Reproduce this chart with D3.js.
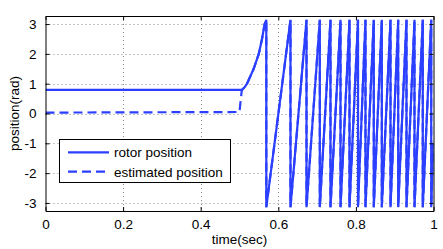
<!DOCTYPE html>
<html>
<head>
<meta charset="utf-8">
<script src="https://cdn.jsdelivr.net/npm/d3@7"></script>
<style>
  html, body { margin: 0; padding: 0; background: #fff; }
  svg { display: block; font-family: "Liberation Sans", Arial, Helvetica, sans-serif; }
</style>
</head>
<body>
<svg id="chart" width="443" height="249"></svg>
<script>
// ---- data ----
const xTicks = [0, 0.2, 0.4, 0.6, 0.8, 1];
const xTickLabels = ["0", "0.2", "0.4", "0.6", "0.8", "1"];
const yTicks = [-3, -2, -1, 0, 1, 2, 3];
const yTickLabels = ["-3", "-2", "-1", "0", "1", "2", "3"];
const xDomain = [0, 1];
const yDomain = [-3.27, 3.27];

// rotor position: hold, then accelerating rise until the first wrap
const rotorStartT = [0, 0.506, 0.513, 0.5194, 0.5365, 0.5497, 0.558, 0.5648, 0.5691];
const rotorStartV = [0.79, 0.79, 0.88, 1.0, 1.5, 2.0, 2.5, 3.0, 3.1416];
// times at which the position reaches +pi and wraps to -pi
const wrapTimes = [0.5691, 0.6314, 0.6727, 0.7070, 0.7345, 0.7603, 0.7835, 0.8054,
                   0.8247, 0.8461, 0.8668, 0.8892, 0.9090, 0.9304, 0.9510, 0.9724, 0.9941];
const wrapTop = 3.1416, wrapBottom = -3.1416;
const endPoint = [1.0, -1.0];

// estimated position before convergence
const estStartT = [0, 0.25, 0.5, 0.503, 0.506];
const estStartV = [0.03, 0.04, 0.05, 0.45, 0.79];

const seriesNames = ["rotor position", "estimated position"];
const lineColor = "#2a3fff";
const fontSize = "13.5px";

// ---- build series ----
const rotor = rotorStartT.map((t, i) => [t, rotorStartV[i]]);
wrapTimes.forEach((t, i) => {
  if (i > 0) rotor.push([t, wrapTop]);
  rotor.push([t, wrapBottom]);
});
rotor.push(endPoint);

const estimated = estStartT.map((t, i) => [t, estStartV[i]]).concat(rotor.slice(1));

// ---- layout ----
const svg = d3.select("#chart");
const L = 45.5, R = 433.5, T = 16, B = 211;
const x = d3.scaleLinear().domain(xDomain).range([L, R]);
const y = d3.scaleLinear().domain(yDomain).range([B, T]);

// grid
const grid = svg.append("g");
grid.selectAll("line.gx").data(xTicks.filter(d => d > 0 && d < 1)).enter().append("line")
  .attr("x1", d => Math.round(x(d)) + 0.5).attr("x2", d => Math.round(x(d)) + 0.5)
  .attr("y1", T).attr("y2", B)
  .attr("stroke", "#8a8a8a").attr("stroke-width", 1).attr("stroke-dasharray", "1,3");
grid.selectAll("line.gy").data(yTicks).enter().append("line")
  .attr("y1", d => Math.round(y(d)) + 0.5).attr("y2", d => Math.round(y(d)) + 0.5)
  .attr("x1", L).attr("x2", R)
  .attr("stroke", "#8a8a8a").attr("stroke-width", 1).attr("stroke-dasharray", "1,3");

// clip
svg.append("clipPath").attr("id", "clip").append("rect")
  .attr("x", L).attr("y", T - 2).attr("width", R - L).attr("height", B - T + 4);

const line = d3.line().x(d => x(d[0])).y(d => y(d[1]));
const plot = svg.append("g").attr("clip-path", "url(#clip)");
plot.append("path").datum(estimated).attr("d", line)
  .attr("fill", "none").attr("stroke", lineColor).attr("stroke-width", 2.2)
  .attr("stroke-dasharray", "9,5");
plot.append("path").datum(rotor).attr("d", line)
  .attr("fill", "none").attr("stroke", lineColor).attr("stroke-width", 2.2)
  .attr("stroke-linejoin", "miter");

// axes (box with inward ticks)
const axB = d3.axisBottom(x).tickValues(xTicks).tickFormat((d, i) => xTickLabels[i]).tickSizeInner(-4).tickSizeOuter(0).tickPadding(8);
const axT = d3.axisTop(x).tickValues(xTicks).tickFormat("").tickSizeInner(-4).tickSizeOuter(0);
const axLf = d3.axisLeft(y).tickValues(yTicks).tickFormat((d, i) => yTickLabels[i]).tickSizeInner(-4).tickSizeOuter(0).tickPadding(9);
const axRt = d3.axisRight(y).tickValues(yTicks).tickFormat("").tickSizeInner(-4).tickSizeOuter(0);

function style(g) {
  g.selectAll("path.domain").attr("stroke", "#000").attr("stroke-width", 1);
  g.selectAll(".tick line").attr("stroke", "#000").attr("stroke-width", 1);
  g.selectAll("text").attr("font-size", fontSize).attr("fill", "#000")
    .attr("font-family", "'Liberation Sans', Arial, Helvetica, sans-serif");
}
svg.append("g").attr("transform", `translate(0,${B})`).call(axB).call(style);
svg.append("g").attr("transform", `translate(0,${T})`).call(axT).call(style);
svg.append("g").attr("transform", `translate(${L},0)`).call(axLf).call(style);
svg.append("g").attr("transform", `translate(${R},0)`).call(axRt).call(style);

// axis titles
svg.append("text").attr("x", (L + R) / 2).attr("y", 244).attr("text-anchor", "middle")
  .attr("font-size", fontSize).text("time(sec)");
svg.append("text").attr("transform", `translate(18.5,${(T + B) / 2}) rotate(-90)`)
  .attr("text-anchor", "middle").attr("font-size", fontSize).text("position(rad)");

// legend
const lg = svg.append("g");
lg.append("rect").attr("x", 59.5).attr("y", 139.5).attr("width", 171).attr("height", 43)
  .attr("fill", "#fff").attr("stroke", "#000").attr("stroke-width", 1);
const legendY = [152.3, 171.7];
seriesNames.forEach((name, i) => {
  lg.append("line").attr("x1", 68).attr("x2", 109).attr("y1", legendY[i]).attr("y2", legendY[i])
    .attr("stroke", lineColor).attr("stroke-width", 2.2)
    .attr("stroke-dasharray", i === 1 ? "9,5" : null);
  lg.append("text").attr("x", 114).attr("y", legendY[i] + 5).attr("font-size", fontSize).text(name);
});
</script>
</body>
</html>
